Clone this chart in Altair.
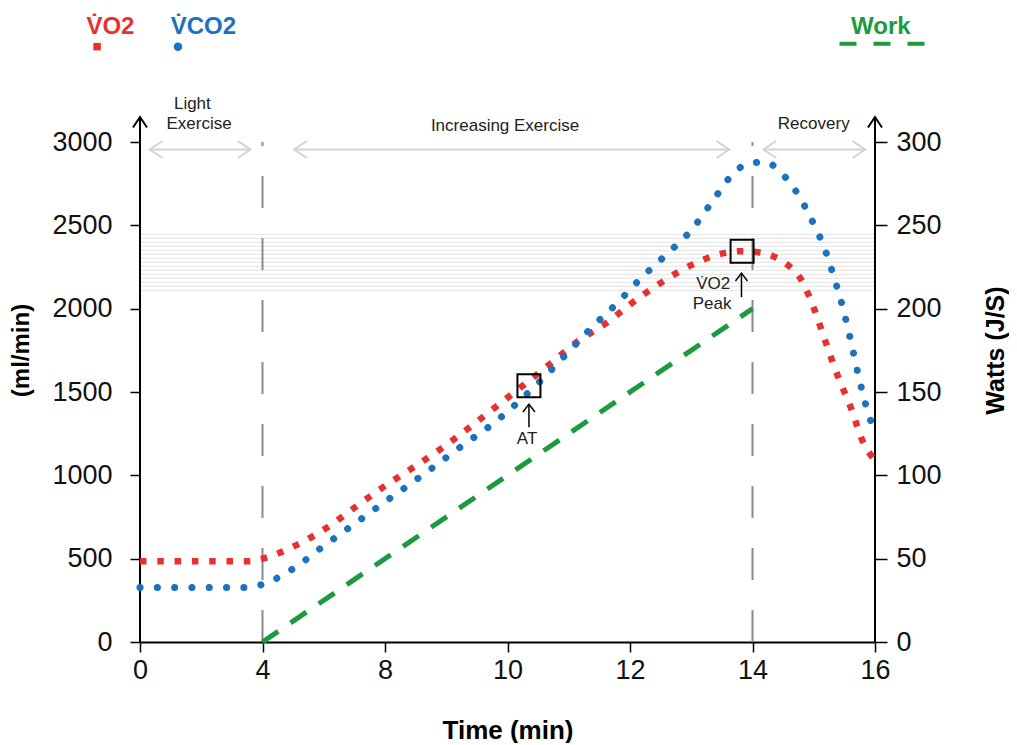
import altair as alt
import pandas as pd

# ---------------- data ----------------
TIME_TICKS = [0, 4, 8, 10, 12, 14, 16]
ML_TICKS = [0, 500, 1000, 1500, 2000, 2500, 3000]
WATT_TICKS = [0, 50, 100, 150, 200, 250, 300]

vo2_t = [0, 3.56, 4.03, 5.09, 6.07, 7.02, 7.93, 8.44, 8.90, 9.36, 9.80, 10.24, 10.69,
         11.13, 11.61, 12.05, 12.52, 13.00, 13.53, 13.81, 14.09, 14.37, 14.60, 14.79,
         14.91, 15.02, 15.20, 15.40, 15.61, 15.80, 16.0]
vo2_v = [485, 485, 501, 580, 682, 808, 928, 1042, 1156, 1282, 1408, 1535, 1667,
         1799, 1913, 2039, 2159, 2261, 2333, 2345, 2339, 2309, 2255, 2177,
         2087, 1985, 1793, 1589, 1402, 1204, 1090]

vco2_t = [0, 3.5, 3.98, 5.06, 5.98, 6.89, 7.84, 8.38, 8.83, 9.29, 9.75, 10.19, 10.60,
          10.99, 11.38, 11.79, 12.18, 12.60, 13.00, 13.34, 13.68, 13.91, 14.19, 14.43,
          14.61, 14.78, 14.91, 15.04, 15.15, 15.33, 15.49, 15.62, 15.74, 15.89, 16.0]
vco2_v = [327, 327, 345, 447, 574, 694, 820, 940, 1060, 1186, 1306, 1444, 1589,
          1739, 1889, 2033, 2183, 2327, 2471, 2640, 2808, 2868, 2880, 2832,
          2754, 2664, 2574, 2477, 2387, 2189, 1985, 1781, 1583, 1372, 1258]

work_t = [4, 14]
work_w = [0, 200]

phase_t = [4, 14]
band_v = [2110, 2134, 2158, 2182, 2206, 2230, 2254, 2278, 2302, 2326, 2350,
          2374, 2398, 2422, 2446]

span_t0 = [0.32, 5.03, 14.18]
span_t1 = [3.61, 13.62, 15.84]
span_v = [2955, 2955, 2955]

phase_text = ["Light", "Exercise", "Increasing Exercise", "Recovery"]
phase_text_t = [1.71, 1.93, 9.96, 15.0]
phase_text_v = [3228, 3111, 3096, 3108]

box_t = [10.35, 13.83]
box_v = [1538, 2345]
pointer_t = [10.35, 13.82]
pointer_v0 = [1288, 2069]
pointer_v1 = [1427, 2213]
note_text = ["AT", "V\u0307O2", "Peak"]
note_t = [10.32, 13.36, 13.34]
note_v = [1216, 2147, 2027]

axis_t = [0, 16]
axis_top = [3150, 3150]

legend_text = ["V\u0307O2", "V\u0307CO2", "Work"]
legend_t = [-1.75, 1.0, 15.61]
legend_v = [3688, 3688, 3688]
legend_sym_t = [-1.40, 1.24]
legend_sym_v = [3572, 3572]
legend_dash_t = [15.42, 16.82]
legend_dash_v = [3589, 3589]

# ---------------- styling ----------------
RED = "#e8312f"
BLUE = "#1c72bd"
GREEN = "#1b9a3e"
FONT = "Liberation Sans"
W, H = 735, 500
XR = [0, 122.5, 245, 367.5, 490, 612.5, 735]

xs = alt.Scale(domain=TIME_TICKS, range=XR, nice=False, zero=False)
ys = alt.Scale(domain=[0, 3000], nice=False)
ws = alt.Scale(domain=[0, 300], nice=False)

x_axis = alt.Axis(values=TIME_TICKS, title="Time (min)", titleFont=FONT, titleFontSize=26,
                  titleFontWeight="bold", titleColor="black", titlePadding=34,
                  labelFont=FONT, labelFontSize=27, labelColor="#111", labelPadding=5,
                  labelFlush=False, labelOverlap=False, tickSize=10, tickColor="black",
                  tickWidth=1.5, domainColor="black", domainWidth=2, grid=False, format="d")
y_axis = alt.Axis(values=ML_TICKS, title="(ml/min)", titleFont=FONT, titleFontSize=24,
                  titleFontWeight="bold", titleColor="black", titlePadding=18, titleY=208,
                  labelFont=FONT, labelFontSize=27, labelColor="#111", labelPadding=18,
                  tickSize=10, tickColor="black", tickWidth=1.5, domain=False, grid=False,
                  labelOverlap=False, format="d")
w_axis = alt.Axis(values=WATT_TICKS, orient="right", title="Watts (J/S)", titleFont=FONT,
                  titleFontSize=25, titleFontWeight="bold", titleColor="black",
                  titlePadding=67, titleAngle=270, titleY=208,
                  labelFont=FONT, labelFontSize=27, labelColor="#111", labelPadding=9,
                  tickSize=12, tickColor="black", tickWidth=1.5, domain=False, grid=False,
                  labelOverlap=False, format="d")


def X(f="t"):
    return alt.X(f"{f}:Q", scale=xs, axis=x_axis)


def Y(f="v"):
    return alt.Y(f"{f}:Q", scale=ys, axis=y_axis)


# ---------------- layers ----------------
band = alt.Chart(pd.DataFrame({"v": band_v, "t0": [0] * len(band_v), "t1": [16] * len(band_v)})).mark_rule(
    color="#e2e2e2", strokeWidth=1).encode(x=X("t0"), x2="t1", y=Y())

phases = alt.Chart(pd.DataFrame({"t": phase_t, "v0": [0, 0], "v1": [3000, 3000]})).mark_rule(
    color="#8a8a8a", strokeWidth=2, strokeDash=[32, 30]).encode(x=X(), y=Y("v0"), y2="v1")

axes_lines = alt.Chart(pd.DataFrame({"t": axis_t, "v0": [0, 0], "v1": axis_top})).mark_rule(
    color="black", strokeWidth=2).encode(x=X(), y=Y("v0"), y2="v1")
axes_heads = alt.Chart(pd.DataFrame({"t": axis_t, "v": axis_top})).mark_point(
    shape="M-1,1.5L0,0L1,1.5", size=196, filled=False, color="black", strokeWidth=2,
    opacity=1).encode(x=X(), y=Y())

span_df = pd.DataFrame({"t0": span_t0, "t1": span_t1, "v": span_v})
spans = alt.Chart(span_df).mark_rule(color="#d3d3d3", strokeWidth=2).encode(
    x=X("t0"), x2="t1", y=Y())
span_left = alt.Chart(span_df).mark_point(
    shape="M1.5,-1L0,0L1.5,1", size=289, filled=False, color="#d3d3d3", strokeWidth=2,
    opacity=1).encode(x=X("t0"), y=Y())
span_right = alt.Chart(span_df).mark_point(
    shape="M-1.5,-1L0,0L-1.5,1", size=289, filled=False, color="#d3d3d3", strokeWidth=2,
    opacity=1).encode(x=X("t1"), y=Y())

phase_labels = alt.Chart(pd.DataFrame({"t": phase_text_t, "v": phase_text_v, "label": phase_text})).mark_text(
    font=FONT, fontSize=17, color="#222", align="center", baseline="middle").encode(
    x=X(), y=Y(), text="label:N")

vo2 = alt.Chart(pd.DataFrame({"t": vo2_t, "v": vo2_v})).mark_line(
    color=RED, strokeWidth=6.5, strokeDash=[6.5, 10.8], strokeCap="butt",
    interpolate="monotone").encode(x=X(), y=Y())

vco2 = alt.Chart(pd.DataFrame({"t": vco2_t, "v": vco2_v})).mark_line(
    color=BLUE, strokeWidth=7, strokeDash=[0.1, 17.2], strokeCap="round",
    interpolate="monotone").encode(x=X(), y=Y())

boxes = alt.Chart(pd.DataFrame({"t": box_t, "v": box_v})).mark_point(
    shape="square", size=529, filled=False, color="black", strokeWidth=2, opacity=1).encode(
    x=X(), y=Y())

ptr_df = pd.DataFrame({"t": pointer_t, "v0": pointer_v0, "v1": pointer_v1})
pointers = alt.Chart(ptr_df).mark_rule(color="black", strokeWidth=1.5).encode(
    x=X(), y=Y("v0"), y2="v1")
pointer_heads = alt.Chart(ptr_df).mark_point(
    shape="M-1,1.3L0,0L1,1.3", size=144, filled=False, color="black", strokeWidth=1.5,
    opacity=1).encode(x=X(), y=Y("v1"))

notes = alt.Chart(pd.DataFrame({"t": note_t, "v": note_v, "label": note_text})).mark_text(
    font=FONT, fontSize=17, color="#222", align="center", baseline="middle").encode(
    x=X(), y=Y(), text="label:N")

leg_df = pd.DataFrame({"t": legend_t, "v": legend_v, "label": legend_text,
                       "c": [RED, BLUE, GREEN]})
leg_text = alt.Chart(leg_df).mark_text(
    font=FONT, fontSize=24, fontWeight="bold", align="left", baseline="middle").encode(
    x=X(), y=Y(), text="label:N", color=alt.Color("c:N", scale=None))

leg_sq = alt.Chart(pd.DataFrame({"t": legend_sym_t[:1], "v": legend_sym_v[:1]})).mark_point(
    shape="square", size=56, filled=True, color=RED, opacity=1).encode(x=X(), y=Y())
leg_dot = alt.Chart(pd.DataFrame({"t": legend_sym_t[1:], "v": legend_sym_v[1:]})).mark_point(
    shape="circle", size=72, filled=True, color=BLUE, opacity=1).encode(x=X(), y=Y())
leg_dash = alt.Chart(pd.DataFrame({"t0": legend_dash_t[:1], "t1": legend_dash_t[1:],
                                   "v": legend_dash_v[:1]})).mark_rule(
    color=GREEN, strokeWidth=4, strokeDash=[17, 17]).encode(x=X("t0"), x2="t1", y=Y())

left = alt.layer(band, phases, spans, span_left, span_right, phase_labels, axes_lines,
                 axes_heads, vo2, vco2, boxes, pointers, pointer_heads, notes,
                 leg_text, leg_sq, leg_dot, leg_dash)

work = alt.Chart(pd.DataFrame({"t": work_t, "w": work_w})).mark_line(
    color=GREEN, strokeWidth=5, strokeDash=[19, 15], strokeCap="butt").encode(
    x=X(), y=alt.Y("w:Q", scale=ws, axis=w_axis))

chart = alt.layer(left, work).resolve_scale(y="independent").properties(
    width=W, height=H, padding={"left": 1, "top": 7, "right": 0, "bottom": 0},
    background="white").configure_view(strokeWidth=0)

chart.save("out.html", embed_options={"renderer": "svg", "actions": False})
